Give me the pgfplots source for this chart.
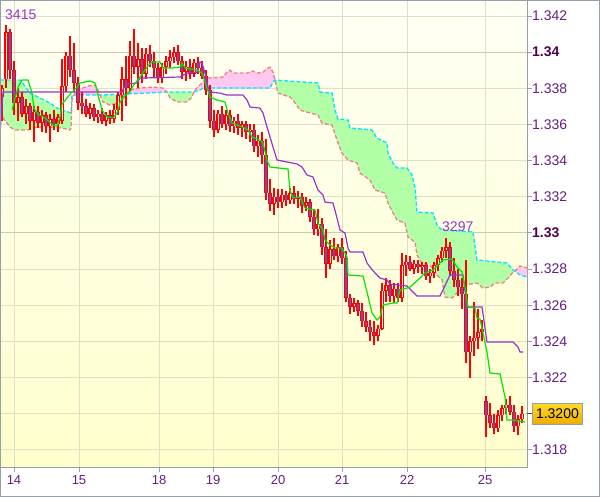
\documentclass[border=0pt]{standalone}
\usepackage{fontspec}
\setmainfont{Liberation Sans}
\usepackage{pgfplots}
\usepackage{pgfplotstable}
\pgfplotsset{compat=1.18}
\usepgfplotslibrary{fillbetween}

\definecolor{bgtop}{RGB}{255,255,246}
\definecolor{bgbot}{RGB}{255,255,204}
\definecolor{gridc}{RGB}{224,224,196}
\definecolor{gridb}{RGB}{204,204,170}
\definecolor{spine}{RGB}{150,160,170}
\definecolor{labc}{RGB}{100,30,130}
\definecolor{labb}{RGB}{80,0,80}
\definecolor{cred}{RGB}{255,0,0}
\definecolor{cbear}{RGB}{110,80,170}
\definecolor{cbull}{RGB}{255,255,228}
\definecolor{cgreen}{RGB}{0,230,0}
\definecolor{cpurple}{RGB}{153,51,204}
\definecolor{ccyan}{RGB}{0,229,255}
\definecolor{csalmon}{RGB}{240,128,128}
\definecolor{cloudg}{RGB}{178,255,168}
\definecolor{cloudp}{RGB}{255,200,240}
\definecolor{boxtop}{RGB}{255,218,40}
\definecolor{boxbot}{RGB}{238,172,0}

% hourly candles: x = position on the time axis, o h l c = prices
\pgfplotstableread{
x o h l c
2 1.3375 1.3382 1.3362 1.3380
6 1.3385 1.3415 1.3380 1.3411
10 1.3411 1.3413 1.3385 1.3390
14 1.3390 1.3395 1.3365 1.3372
18 1.3372 1.3380 1.3362 1.3375
22 1.3375 1.3378 1.3364 1.3366
26 1.3366 1.3374 1.3360 1.3370
30 1.3370 1.3372 1.3357 1.3362
34 1.3362 1.3370 1.3350 1.3367
38 1.3367 1.3370 1.3358 1.3361
42 1.3361 1.3368 1.3356 1.3365
46 1.3365 1.3367 1.3355 1.3359
50 1.3359 1.3366 1.3350 1.3363
54 1.3363 1.3368 1.3357 1.3360
58 1.3360 1.3366 1.3356 1.3364
62 1.3362 1.3396 1.3360 1.3381
66 1.3381 1.3400 1.3378 1.3398
70 1.3398 1.3409 1.3386 1.3390
74 1.3390 1.3405 1.3378 1.3383
78 1.3383 1.3386 1.3368 1.3372
82 1.3372 1.3378 1.3366 1.3370
86 1.3370 1.3374 1.3364 1.3366
90 1.3366 1.3372 1.3363 1.3369
94 1.3369 1.3371 1.3362 1.3364
98 1.3364 1.3368 1.3361 1.3366
102 1.3366 1.3369 1.3360 1.3362
106 1.3362 1.3367 1.3359 1.3365
110 1.3365 1.3368 1.3360 1.3363
114 1.3363 1.3371 1.3361 1.3368
118 1.3368 1.3378 1.3365 1.3376
122 1.3376 1.3392 1.3362 1.3385
126 1.3385 1.3398 1.3370 1.3380
130 1.3380 1.3406 1.3378 1.3398
134 1.3398 1.3413 1.3388 1.3392
138 1.3392 1.3405 1.3380 1.3396
142 1.3396 1.3402 1.3383 1.3388
146 1.3388 1.3402 1.3385 1.3399
150 1.3399 1.3404 1.3392 1.3395
154 1.3395 1.3400 1.3386 1.3391
158 1.3391 1.3394 1.3383 1.3386
162 1.3386 1.3394 1.3383 1.3392
166 1.3392 1.3398 1.3388 1.3395
170 1.3395 1.3401 1.3391 1.3397
174 1.3397 1.3403 1.3394 1.3400
178 1.3400 1.3404 1.3393 1.3395
182 1.3395 1.3398 1.3385 1.3389
186 1.3389 1.3395 1.3384 1.3392
190 1.3392 1.3396 1.3385 1.3388
194 1.3388 1.3396 1.3386 1.3394
198 1.3394 1.3397 1.3388 1.3391
202 1.3391 1.3395 1.3385 1.3387
206 1.3387 1.3390 1.3376 1.3379
210 1.3379 1.3382 1.3358 1.3362
214 1.3362 1.3368 1.3353 1.3357
218 1.3357 1.3368 1.3355 1.3366
222 1.3366 1.3370 1.3358 1.3360
226 1.3360 1.3368 1.3357 1.3365
230 1.3365 1.3368 1.3356 1.3359
234 1.3359 1.3364 1.3355 1.3362
238 1.3362 1.3366 1.3354 1.3358
242 1.3358 1.3362 1.3353 1.3360
246 1.3360 1.3362 1.3352 1.3356
250 1.3356 1.3360 1.3350 1.3357
254 1.3357 1.3360 1.3345 1.3348
258 1.3348 1.3354 1.3342 1.3351
262 1.3351 1.3356 1.3338 1.3343
266 1.3343 1.3352 1.3318 1.3322
270 1.3322 1.3330 1.3312 1.3316
274 1.3316 1.3325 1.3310 1.3320
278 1.3320 1.3324 1.3314 1.3317
282 1.3317 1.3324 1.3314 1.3321
286 1.3321 1.3323 1.3315 1.3318
290 1.3318 1.3325 1.3316 1.3322
294 1.3322 1.3326 1.3316 1.3319
298 1.3319 1.3323 1.3314 1.3320
302 1.3320 1.3322 1.3311 1.3315
306 1.3315 1.3320 1.3312 1.3317
310 1.3317 1.3319 1.3306 1.3309
314 1.3309 1.3313 1.3299 1.3302
318 1.3302 1.3313 1.3298 1.3305
322 1.3305 1.3308 1.3288 1.3292
326 1.3292 1.3302 1.3275 1.3283
330 1.3283 1.3296 1.3280 1.3291
334 1.3291 1.3297 1.3285 1.3287
338 1.3287 1.3294 1.3284 1.3292
342 1.3292 1.3297 1.3283 1.3286
346 1.3286 1.3290 1.3262 1.3264
350 1.3264 1.3266 1.3255 1.3259
354 1.3259 1.3264 1.3256 1.3261
358 1.3261 1.3263 1.3254 1.3257
362 1.3257 1.3261 1.3248 1.3251
366 1.3251 1.3256 1.3245 1.3248
370 1.3248 1.3252 1.3240 1.3245
374 1.3245 1.3251 1.3238 1.3243
378 1.3243 1.3249 1.3240 1.3247
382 1.3247 1.3272 1.3246 1.3268
386 1.3268 1.3275 1.3262 1.3271
390 1.3271 1.3274 1.3262 1.3265
394 1.3265 1.3272 1.3261 1.3269
398 1.3269 1.3272 1.3262 1.3264
402 1.3264 1.3289 1.3262 1.3282
406 1.3282 1.3288 1.3276 1.3284
410 1.3284 1.3287 1.3279 1.3280
414 1.3280 1.3285 1.3277 1.3283
418 1.3283 1.3285 1.3278 1.3281
422 1.3281 1.3284 1.3277 1.3282
426 1.3282 1.3284 1.3274 1.3276
430 1.3276 1.3280 1.3272 1.3278
434 1.3278 1.3284 1.3275 1.3282
438 1.3282 1.3288 1.3279 1.3286
442 1.3286 1.3292 1.3284 1.3290
446 1.3290 1.3297 1.3286 1.3292
450 1.3292 1.3295 1.3276 1.3279
454 1.3279 1.3286 1.3270 1.3274
458 1.3274 1.3280 1.3265 1.3270
462 1.3270 1.3275 1.3258 1.3266
466 1.3266 1.3285 1.3228 1.3234
470 1.3234 1.3243 1.3220 1.3240
474 1.3240 1.3262 1.3232 1.3242
478 1.3242 1.3258 1.3236 1.3245
482 1.3245 1.3252 1.3240 1.3247
486 1.3207 1.3210 1.3187 1.3199
490 1.3199 1.3206 1.3192 1.3195
494 1.3195 1.3200 1.3189 1.3192
498 1.3192 1.3202 1.3190 1.3199
502 1.3199 1.3205 1.3196 1.3203
506 1.3203 1.3208 1.3200 1.3205
510 1.3205 1.3210 1.3199 1.3201
514 1.3201 1.3205 1.3190 1.3193
518 1.3193 1.3199 1.3188 1.3197
522 1.3197 1.3204 1.3195 1.3200
}\candles

% cloud edges
\pgfplotstableread{
x y
0 1.33845
20 1.33845
22 1.33834
30 1.33773
40 1.33746
50 1.33718
57 1.33690
63 1.33679
68 1.33668
71 1.33663
72 1.33762
100 1.33762
127 1.33768
167 1.33779
193 1.33779
200 1.33790
203 1.33801
270 1.33801
273 1.33834
275 1.33845
318 1.33829
320 1.33779
332 1.33773
335 1.33679
338 1.33630
348 1.33624
350 1.33580
372 1.33569
377 1.33524
387 1.33497
388 1.33441
393 1.33386
397 1.33359
407 1.33359
412 1.33320
415 1.33253
417 1.33115
433 1.33110
437 1.33043
442 1.33016
473 1.33005
477 1.32850
507 1.32833
513 1.32794
516 1.32783
520 1.32767
527 1.32756
}\spanA

\pgfplotstableread{
x y
0 1.33668
3 1.33635
10 1.33585
15 1.33569
27 1.33569
37 1.33585
50 1.33585
62 1.33580
70 1.33569
71 1.33580
72 1.33735
75 1.33773
80 1.33795
88 1.33812
95 1.33818
98 1.33790
100 1.33762
103 1.33724
110 1.33707
118 1.33718
125 1.33751
128 1.33779
130 1.33790
140 1.33801
153 1.33806
163 1.33801
167 1.33779
170 1.33746
177 1.33724
187 1.33724
192 1.33751
194 1.33784
197 1.33801
202 1.33829
207 1.33856
223 1.33862
227 1.33889
230 1.33900
233 1.33884
247 1.33884
253 1.33895
257 1.33884
263 1.33889
268 1.33912
270 1.33917
273 1.33889
275 1.33845
278 1.33773
290 1.33751
293 1.33735
300 1.33679
307 1.33668
318 1.33652
322 1.33607
332 1.33596
337 1.33513
342 1.33441
348 1.33403
357 1.33386
360 1.33331
370 1.33292
375 1.33237
385 1.33220
388 1.33165
393 1.33110
397 1.33071
405 1.33054
408 1.32977
415 1.32949
417 1.32877
422 1.32833
430 1.32822
437 1.32767
442 1.32739
445 1.32645
452 1.32640
458 1.32673
465 1.32712
477 1.32723
483 1.32695
490 1.32700
495 1.32723
503 1.32723
508 1.32750
513 1.32783
516 1.32794
520 1.32817
527 1.32806
}\spanB

\pgfplotstableread{
x y
12 1.33679
18 1.33806
22 1.33845
28 1.33845
32 1.33773
34 1.33690
38 1.33657
45 1.33635
53 1.33596
57 1.33591
60 1.33641
62 1.33712
67 1.33746
71 1.33773
77 1.33806
80 1.33829
90 1.33840
95 1.33829
98 1.33762
102 1.33679
107 1.33641
113 1.33635
117 1.33663
120 1.33718
123 1.33751
127 1.33768
130 1.33779
133 1.33812
140 1.33862
147 1.33917
152 1.33945
160 1.33945
163 1.33912
173 1.33912
180 1.33917
182 1.33939
185 1.33912
197 1.33900
202 1.33884
207 1.33801
210 1.33751
217 1.33735
225 1.33724
228 1.33663
232 1.33607
243 1.33585
248 1.33569
252 1.33530
260 1.33513
263 1.33497
267 1.33403
270 1.33364
288 1.33353
290 1.33237
293 1.33193
300 1.33198
305 1.33137
315 1.33126
318 1.33054
323 1.33016
325 1.32960
330 1.32933
335 1.32916
342 1.32916
347 1.32866
348 1.32767
363 1.32761
367 1.32673
372 1.32557
377 1.32518
380 1.32535
383 1.32601
393 1.32612
397 1.32612
400 1.32684
410 1.32700
420 1.32750
425 1.32778
433 1.32794
440 1.32833
443 1.32850
452 1.32855
457 1.32811
462 1.32783
465 1.32700
468 1.32590
475 1.32584
477 1.32529
480 1.32524
487 1.32341
490 1.32225
500 1.32219
505 1.32092
507 1.31965
513 1.31965
525 1.31954
}\tenkan

\pgfplotstableread{
x y
0 1.33552
3 1.33779
122 1.33779
124 1.33806
128 1.33823
137 1.33829
140 1.33856
180 1.33862
187 1.33884
197 1.33889
200 1.33945
202 1.33939
205 1.33884
208 1.33806
210 1.33779
220 1.33773
227 1.33762
243 1.33762
247 1.33735
250 1.33696
260 1.33690
263 1.33663
267 1.33585
270 1.33530
273 1.33475
277 1.33403
287 1.33392
297 1.33381
302 1.33364
307 1.33320
313 1.33309
318 1.33237
323 1.33209
325 1.33170
333 1.33165
337 1.33082
340 1.33016
345 1.32999
348 1.32916
350 1.32894
363 1.32894
367 1.32833
370 1.32811
375 1.32778
380 1.32750
387 1.32739
390 1.32717
407 1.32706
417 1.32651
440 1.32651
443 1.32684
450 1.32767
463 1.32767
467 1.32590
482 1.32590
487 1.32396
513 1.32396
518 1.32369
520 1.32341
523 1.32341
}\kijun

\begin{document}
\begin{tikzpicture}
\begin{axis}[
  at={(0,0)}, anchor=south west,
  scale only axis, width=527bp, height=467bp,
  xmin=0, xmax=527, ymin=1.31705, ymax=1.34288,
  axis background/.style={top color=bgtop, bottom color=bgbot},
  axis line style={draw=spine, line width=1bp},
  xtick={14,79,159,213,278,342,407,485},
  xticklabels={14,15,18,19,20,21,22,25},
  ytick={1.318,1.320,1.322,1.324,1.326,1.328,1.332,1.334,1.336,1.338,1.342},
  yticklabels={1.318,,1.322,1.324,1.326,1.328,1.332,1.334,1.336,1.338,1.342},
  extra y ticks={1.33,1.34},
  extra y tick labels={\bfseries 1.33,\bfseries 1.34},
  extra y tick style={grid=major, major grid style={draw=gridb, line width=1bp},
    yticklabel style={text=labb}},
  scaled y ticks=false,
  minor y tick num=1,
  xtick pos=bottom, ytick pos=right, yticklabel pos=right,
  tick align=outside,
  major tick length=5bp, minor tick length=4bp,
  tick style={draw=spine, line width=0.8bp},
  grid=major, major grid style={draw=gridc, line width=0.8bp},
  xticklabel style={font=\fontsize{13bp}{15bp}\selectfont, text=labc},
  yticklabel style={font=\fontsize{14bp}{16bp}\selectfont, text=labc,
    anchor=west, inner sep=0pt},
]
% Ichimoku cloud
\addplot[name path=A, draw=none] table {\spanA};
\addplot[name path=B, draw=none] table {\spanB};
\addplot[fill=cloudg, draw=none] fill between[of=A and B, soft clip={domain=0:74}];
\addplot[fill=cloudp, draw=none] fill between[of=A and B, soft clip={domain=74:100}];
\addplot[fill=cloudg, draw=none] fill between[of=A and B, soft clip={domain=100:126.8}];
\addplot[fill=cloudp, draw=none] fill between[of=A and B, soft clip={domain=126.8:167}];
\addplot[fill=cloudg, draw=none] fill between[of=A and B, soft clip={domain=167:193.7}];
\addplot[fill=cloudp, draw=none] fill between[of=A and B, soft clip={domain=193.7:275}];
\addplot[fill=cloudg, draw=none] fill between[of=A and B, soft clip={domain=275:514.5}];
\addplot[fill=cloudp, draw=none] fill between[of=A and B, soft clip={domain=514.5:527}];
\addplot[draw=ccyan, line width=1.3bp, dash pattern=on 4bp off 2bp] table {\spanA};
\addplot[draw=csalmon, line width=1.3bp, dash pattern=on 4bp off 2bp] table {\spanB};

% candles: wicks, bodies, body interiors
\addplot[draw=none, mark=none, error bars/.cd, y dir=both, y explicit, error mark=none,
  error bar style={draw=cred, line width=1.2bp}]
  table[x=x, y=o, y error plus expr={\thisrow{h}-\thisrow{o}},
        y error minus expr={\thisrow{o}-\thisrow{l}}] {\candles};
\addplot[draw=none, mark=none, error bars/.cd, y dir=both, y explicit, error mark=none,
  error bar style={draw=cred, line width=3.4bp}]
  table[x=x, y=o, y error plus expr={max(\thisrow{c}-\thisrow{o},0)},
        y error minus expr={max(\thisrow{o}-\thisrow{c},0)}] {\candles};
\addplot[draw=none, mark=none, error bars/.cd, y dir=minus, y explicit, error mark=none,
  error bar style={draw=cbear, line width=1.4bp}]
  table[x=x, y expr={\thisrow{o}-0.00003},
        y error minus expr={max(\thisrow{o}-\thisrow{c}-0.00006,0)}] {\candles};
\addplot[draw=none, mark=none, error bars/.cd, y dir=plus, y explicit, error mark=none,
  error bar style={draw=cbull, line width=1bp}]
  table[x=x, y expr={\thisrow{o}+0.00003},
        y error plus expr={max(\thisrow{c}-\thisrow{o}-0.00006,0)}] {\candles};

% tenkan and kijun
\addplot[draw=cpurple, line width=1.2bp] table {\kijun};
\addplot[draw=cgreen, line width=1.2bp] table {\tenkan};

\node[anchor=base west, inner sep=0pt, text=cpurple, font=\fontsize{14bp}{16bp}\selectfont]
  at (axis cs:5,1.34182) {3415};
\node[anchor=base west, inner sep=0pt, text=cpurple, font=\fontsize{14bp}{16bp}\selectfont]
  at (axis cs:442,1.33005) {3297};
\coordinate (pb) at (axis cs:527,1.3200);
\end{axis}
\draw[draw=black!70, line width=1bp] (pb) -- ++(5bp,0);
\node[anchor=west, draw=spine, line width=1bp, top color=boxtop, bottom color=boxbot,
  inner xsep=3.5bp, inner ysep=0pt, minimum height=21bp, text=black,
  font=\fontsize{14bp}{16bp}\selectfont] at ([xshift=5bp]pb) {1.3200};
\draw[draw=spine, line width=1bp] (0.5bp,-29.5bp) rectangle (599.5bp,466.5bp);
\pgfresetboundingbox
\useasboundingbox (0,-30bp) rectangle (600bp,467bp);
\end{tikzpicture}
\end{document}
